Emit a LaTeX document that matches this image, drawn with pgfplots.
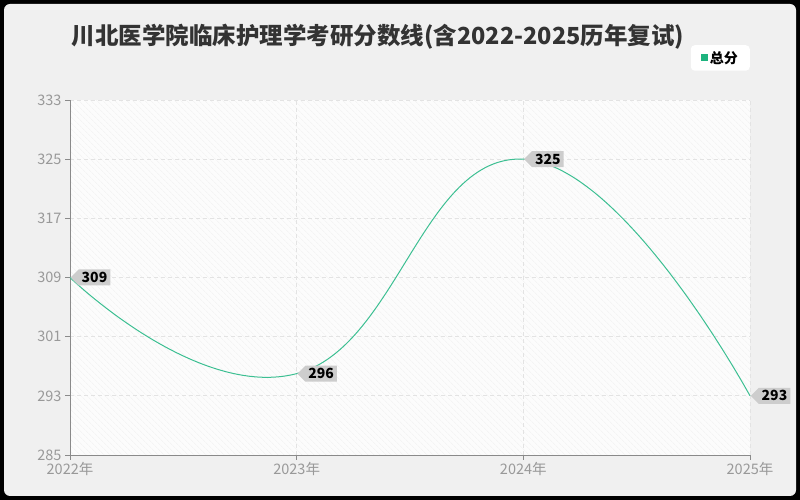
\documentclass[border=0pt]{standalone}
\usepackage{fontspec}
\setmainfont{Noto Sans CJK SC}
\usepackage{pgfplots}
\pgfplotsset{compat=1.18}
\usetikzlibrary{shapes.symbols,patterns.meta}
\definecolor{panel}{HTML}{F0F0F0}
\definecolor{plotbg}{HTML}{FCFCFC}
\definecolor{hatch}{HTML}{F1F1F1}
\definecolor{gridc}{HTML}{E3E3E3}
\definecolor{tickc}{HTML}{999999}
\definecolor{axisc}{HTML}{8A8A8A}
\definecolor{linec}{HTML}{3CBF92}
\definecolor{legc}{HTML}{1DB37E}
\definecolor{labelbg}{HTML}{CDCDCD}
\definecolor{titlec}{HTML}{333333}

\begin{document}
\begin{tikzpicture}[x=1pt,y=1pt]
  % frame
  \fill[black] (0,0) rectangle (800,500);
  \fill[panel, rounded corners=6pt] (4,4) rectangle (796,496);
  \node[font=\bfseries\fontsize{23.5}{28}\selectfont, text=titlec] at (378,463)
    {川北医学院临床护理学考研分数线(含2022-2025历年复试)};

  \begin{axis}[
      at={(70pt,45pt)}, anchor=south west,
      scale only axis, width=680pt, height=355pt,
      xmin=2022, xmax=2025, ymin=285, ymax=333,
      xtick={2022,2023,2024,2025},
      xticklabels={2022年,2023年,2024年,2025年},
      ytick={285,293,301,309,317,325,333},
      axis lines*=left,
      axis line style={axisc, line width=0.8pt},
      axis background/.style={fill=plotbg,
        postaction={pattern={Lines[angle=-45,distance=4pt,line width=0.5pt]},
          pattern color=hatch}},
      grid=major,
      major grid style={gridc, dash pattern=on 4pt off 3pt, line width=0.7pt},
      tick style={axisc, line width=0.8pt},
      major tick length=5pt,
      tick align=outside,
      tick label style={text=tickc, font=\fontsize{14.5}{16}\selectfont},
      xticklabel style={yshift=1pt},
      /pgf/number format/assume math mode=true,
      clip=false,
      legend style={at={(1,1.155)}, anchor=north east, fill=white, draw=none,
        rounded corners=4pt, font=\bfseries\fontsize{14}{16}\selectfont,
        inner xsep=10pt, inner ysep=4pt},
      legend image code/.code={\fill[legc, sharp corners] (0pt,-3pt) rectangle (6pt,3pt);},
      nodes near coords,
      every node near coord/.style={shape=signal, signal to=west,
        signal pointer angle=90, fill=labelbg, text=black, anchor=west,
        font=\bfseries\fontsize{14}{16}\selectfont,
        inner xsep=3pt, inner ysep=0.5pt, minimum height=16pt},
    ]
    \addplot[linec, line width=1pt, smooth, tension=0.8] coordinates {
      (2022,309) (2023,296) (2024,325) (2025,293)
    };
    \addlegendentry{总分}
  \end{axis}
\end{tikzpicture}
\end{document}
